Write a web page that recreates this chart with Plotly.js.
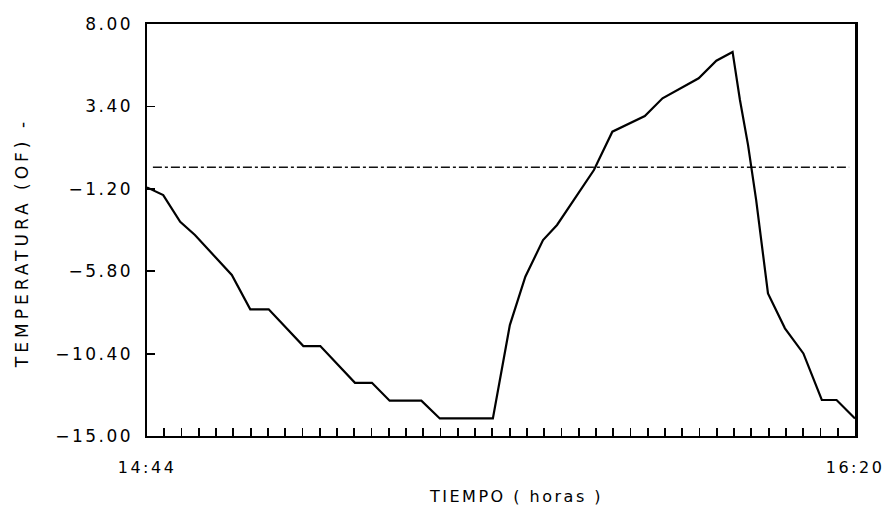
<!DOCTYPE html>
<html>
<head>
<meta charset="utf-8">
<script src="https://cdn.plot.ly/plotly-3.0.1.min.js"></script>
<style>
html, body { margin: 0; padding: 0; background: #fff; }
#chart { width: 889px; height: 510px; }
.ytick text, .xtick text { letter-spacing: 2.5px; }
g.annotation[data-index="0"] .annotation-text { letter-spacing: 2.5px; }
g.annotation[data-index="1"] .annotation-text { letter-spacing: 4px; }
</style>
</head>
<body>
<div id="chart"></div>
<script>
// Time in minutes after 14:44
const timeMin = [0, 2.2, 4.5, 6.5, 11.5, 14.0, 16.5, 21.2, 23.5, 28.2, 30.5, 32.9, 37.2, 39.7, 46.9,
  49.2, 51.3, 53.7, 55.6, 58.2, 60.6, 63.1, 65.9, 67.5, 69.9, 74.8, 77.2, 79.4,
  80.4, 81.5, 82.6, 84.2, 86.5, 89.0, 91.5, 93.5, 96.0];
// Temperature (°C)
const temp = [-1.12, -1.55, -3.04, -3.78, -6.01, -7.93, -7.93, -9.98, -9.98, -12.03, -12.03, -13.03, -13.03, -14.02, -14.02,
  -8.81, -6.11, -4.06, -3.22, -1.64, -0.15, 1.99, 2.55, 2.86, 3.85, 4.97, 5.95, 6.44,
  3.76, 1.24, -1.83, -7.04, -8.99, -10.39, -12.99, -12.99, -14.02];
// Reference (freezing) line
const refX = [0.8, 95.2];
const refY = [0, 0];
// Axis ticks
const yTickVals = [8, 3.4, -1.2, -5.8, -10.4, -15];
const yTickText = ["8.00", "3.40", "\u22121.20", "\u22125.80", "\u221210.40", "\u221215.00"];
const xStart = "14:44", xEnd = "16:20";
const xSpanMin = 96;
const nTickIntervals = 41;

const xTickVals = [], xTickText = [];
for (let i = 0; i <= nTickIntervals; i++) {
  xTickVals.push(i * xSpanMin / nTickIntervals);
  xTickText.push(i === 0 ? xStart : (i === nTickIntervals ? xEnd : ""));
}

const font = "DejaVu Sans, Arial, sans-serif";

const traces = [
  {
    x: refX, y: refY, mode: "lines", type: "scatter",
    line: { color: "#111", width: 1.5, dash: "dashdot" },
    hoverinfo: "skip"
  },
  {
    x: timeMin, y: temp, mode: "lines", type: "scatter",
    line: { color: "#000", width: 2.2 }
  }
];

const layout = {
  width: 889, height: 510,
  margin: { l: 147, r: 34, t: 24, b: 74 },
  paper_bgcolor: "#fff", plot_bgcolor: "#fff",
  showlegend: false,
  font: { family: font, color: "#000", size: 16 },
  xaxis: {
    range: [0, xSpanMin],
    tickmode: "array", tickvals: xTickVals, ticktext: xTickText,
    ticks: "inside", ticklen: 8, tickwidth: 1.8, tickcolor: "#000",
    showline: true, linecolor: "#000", linewidth: 2, mirror: true,
    showgrid: false, zeroline: false,
    tickfont: { family: font, size: 16, color: "#000" },
    ticklabelstandoff: 16
  },
  yaxis: {
    range: [-15, 8],
    tickmode: "array", tickvals: yTickVals, ticktext: yTickText,
    ticks: "inside", ticklen: 8, tickwidth: 1.8, tickcolor: "#000",
    showline: true, linecolor: "#000", linewidth: 2.5, mirror: true,
    showgrid: false, zeroline: false,
    tickfont: { family: font, size: 17, color: "#000" },
    ticklabelstandoff: 8
  },
  annotations: [
    {
      text: "TIEMPO ( horas )", xref: "paper", yref: "paper",
      x: 0.521, y: -0.148, xanchor: "center", yanchor: "middle",
      showarrow: false, font: { family: font, size: 16, color: "#000" }
    },
    {
      text: "TEMPERATURA (OF) -", xref: "paper", yref: "paper",
      x: -0.1766, y: 0.468, xanchor: "center", yanchor: "middle",
      textangle: -90, showarrow: false,
      font: { family: font, size: 17, color: "#000" }
    }
  ]
};

Plotly.newPlot("chart", traces, layout, { staticPlot: true, displayModeBar: false });
</script>
</body>
</html>
